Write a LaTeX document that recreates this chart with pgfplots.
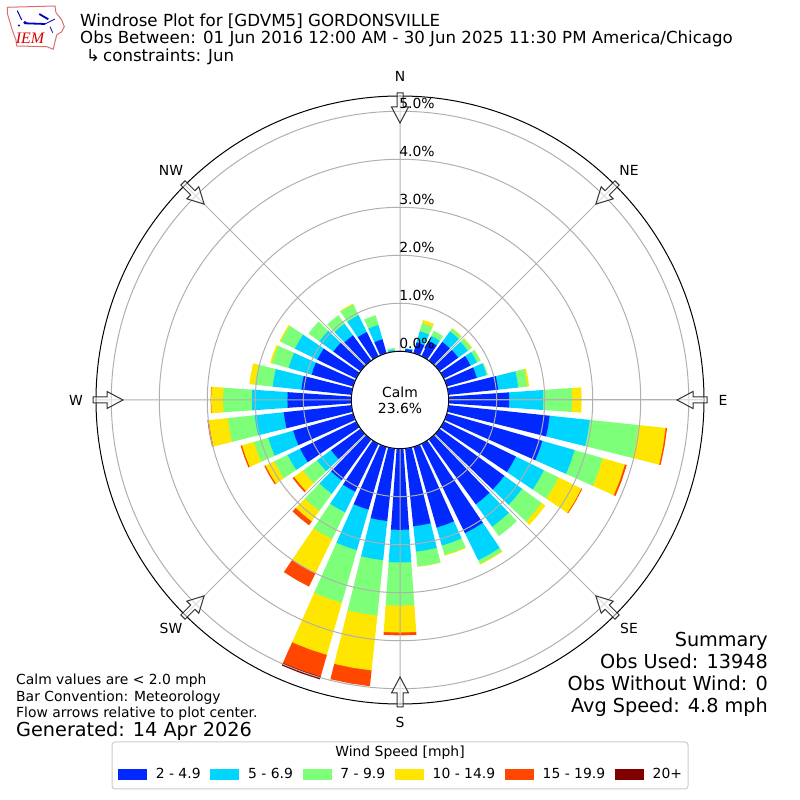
\documentclass[border=0pt]{standalone}
\usepackage{fontspec}
\setmainfont{DejaVu Sans}
\newfontfamily\iemfont{Liberation Serif}
\usepackage{pgfplots}
\pgfplotsset{compat=1.18}
\usepgfplotslibrary{polar}
\definecolor{cA}{RGB}{0,40,255}
\definecolor{cB}{RGB}{0,213,255}
\definecolor{cC}{RGB}{125,255,122}
\definecolor{cD}{RGB}{255,230,0}
\definecolor{cE}{RGB}{255,71,0}
\definecolor{cF}{RGB}{128,0,0}
\definecolor{gridc}{RGB}{176,176,176}
\definecolor{iowa}{RGB}{222,110,110}
% #1 direction, #2 lower edge, #3 upper edge, #4 colour
\newcommand\rosewedge[4]{%
  \ifdim #3pt>#2pt
  \pgfmathsetmacro\ta{90-#1-4}%
  \pgfmathsetmacro\tb{90-#1}%
  \pgfmathsetmacro\tc{90-#1+4}%
  \pgfmathsetmacro\rl{max(#2+1.015-0.012,1.015)}%
  \pgfmathsetmacro\rr{#3+1.015}%
  \edef\tmp{\noexpand\addplot[draw=none,fill=#4,forget plot] coordinates {(\ta,\rl)(\ta,\rr)(\tb,\rr)(\tc,\rr)(\tc,\rl)(\tb,\rl)} --cycle;}%
  \tmp
  \fi}
% direction, then the upper edge (percent) of each speed class, stacked
\newcommand\rosebar[7]{%
  \rosewedge{#1}{#6}{#7}{cF}\rosewedge{#1}{#5}{#6}{cE}\rosewedge{#1}{#4}{#5}{cD}%
  \rosewedge{#1}{#3}{#4}{cC}\rosewedge{#1}{#2}{#3}{cB}\rosewedge{#1}{0}{#2}{cA}}
\newcommand\T[5]{\node[anchor=#3,inner sep=0pt,font=\fontsize{#4pt}{#4pt}\selectfont] at (#1,800-#2) {#5};}
\begin{document}
\begin{tikzpicture}[x=1pt,y=1pt]
\useasboundingbox (0,0) rectangle (800,800);
% legend frame
\draw[rounded corners=3pt,draw=black!20,line width=1pt,fill=white] (112,800-742) rectangle (688,800-789);
\T{400}{753}{center}{13.9}{Wind Speed [mph]}
\begin{polaraxis}[
  at={(400pt,400pt)},anchor=center,
  scale only axis,width=608pt,height=608pt,
  xmin=0,xmax=360,ymin=0,ymax=6.333,
  xtick={0,45,...,315},
  ytick={1.015,2.015,3.015,4.015,5.015,6.015},
  xticklabels={},yticklabels={},
  major tick length=0pt,
  grid=both,
  major grid style={draw=gridc,line width=1pt},
  x axis line style={draw=black,line width=1pt},
  y axis line style={draw=gridc,line width=1pt},
  axis on top,
  clip=false,
  legend columns=6,
  legend cell align=left,
  legend style={at={(0.5016,-0.1155)},anchor=center,draw=none,fill=none,
    font=\fontsize{13.9pt}{14pt}\selectfont,
    /tikz/every odd column/.append style={column sep=7.5pt},
    /tikz/every even column/.append style={column sep=7.6pt},
    nodes={inner sep=2pt}},
]
\rosebar{0}{0.01}{0.01}{0.01}{0.01}{0.01}{0.01}
\rosebar{10}{0.05}{0.07}{0.07}{0.07}{0.07}{0.07}
\rosebar{20}{0.235}{0.475}{0.65}{0.72}{0.72}{0.72}
\rosebar{30}{0.355}{0.47}{0.59}{0.59}{0.59}{0.59}
\rosebar{40}{0.48}{0.75}{0.82}{0.835}{0.835}{0.835}
\rosebar{50}{0.485}{0.73}{0.82}{0.84}{0.84}{0.84}
\rosebar{60}{0.62}{0.77}{0.85}{0.855}{0.855}{0.855}
\rosebar{70}{0.65}{0.86}{0.89}{0.89}{0.89}{0.89}
\rosebar{80}{1.04}{1.46}{1.65}{1.69}{1.69}{1.69}
\rosebar{90}{1.26}{1.97}{2.57}{2.77}{2.77}{2.77}
\rosebar{100}{2.12}{2.96}{3.98}{4.55}{4.58}{4.58}
\rosebar{110}{2.07}{2.77}{3.38}{3.86}{3.90}{3.90}
\rosebar{120}{1.67}{2.32}{2.66}{3.19}{3.21}{3.21}
\rosebar{130}{1.67}{2.13}{2.63}{2.73}{2.73}{2.73}
\rosebar{140}{1.67}{2.25}{2.49}{2.49}{2.49}{2.49}
\rosebar{150}{2.07}{2.70}{2.78}{2.80}{2.80}{2.80}
\rosebar{160}{1.75}{2.14}{2.34}{2.36}{2.36}{2.36}
\rosebar{170}{1.63}{2.16}{2.47}{2.48}{2.48}{2.48}
\rosebar{180}{1.69}{2.37}{3.27}{3.83}{3.89}{3.89}
\rosebar{190}{1.52}{2.34}{3.50}{4.65}{4.98}{4.98}
\rosebar{200}{1.36}{2.24}{3.38}{4.51}{4.98}{5.04}
\rosebar{210}{1.11}{1.59}{2.21}{3.00}{3.31}{3.31}
\rosebar{220}{1.05}{1.40}{1.84}{2.11}{2.21}{2.21}
\rosebar{230}{0.76}{1.12}{1.48}{1.71}{1.75}{1.75}
\rosebar{240}{1.30}{1.59}{1.90}{2.10}{2.13}{2.13}
\rosebar{250}{1.30}{1.84}{2.15}{2.41}{2.44}{2.44}
\rosebar{260}{1.42}{2.03}{2.59}{2.99}{3.02}{3.02}
\rosebar{270}{1.33}{2.07}{2.67}{2.92}{2.93}{2.93}
\rosebar{280}{1.05}{1.65}{2.02}{2.14}{2.14}{2.14}
\rosebar{290}{0.90}{1.40}{1.76}{1.80}{1.80}{1.80}
\rosebar{300}{0.90}{1.42}{1.75}{1.78}{1.78}{1.78}
\rosebar{310}{0.70}{1.06}{1.34}{1.34}{1.34}{1.34}
\rosebar{320}{0.65}{0.95}{1.17}{1.17}{1.17}{1.17}
\rosebar{330}{0.56}{0.95}{1.20}{1.22}{1.22}{1.22}
\rosebar{340}{0.30}{0.61}{0.82}{0.82}{0.82}{0.82}
\rosebar{350}{0.01}{0.04}{0.075}{0.075}{0.075}{0.075}
\addlegendimage{legend image code/.code={\fill[cA] (0pt,-5pt) rectangle (28pt,5pt);}}\addlegendentry{2 - 4.9}
\addlegendimage{legend image code/.code={\fill[cB] (0pt,-5pt) rectangle (28pt,5pt);}}\addlegendentry{5 - 6.9}
\addlegendimage{legend image code/.code={\fill[cC] (0pt,-5pt) rectangle (28pt,5pt);}}\addlegendentry{7 - 9.9}
\addlegendimage{legend image code/.code={\fill[cD] (0pt,-5pt) rectangle (28pt,5pt);}}\addlegendentry{10 - 14.9}
\addlegendimage{legend image code/.code={\fill[cE] (0pt,-5pt) rectangle (28pt,5pt);}}\addlegendentry{15 - 19.9}
\addlegendimage{legend image code/.code={\fill[cF] (0pt,-5pt) rectangle (28pt,5pt);}}\addlegendentry{20+}
\end{polaraxis}
% centre disk
\fill[white] (400,400) circle (48.7);
\draw[black,line width=1pt] (400,400) circle (48.7);
\node[align=center,inner sep=0pt,font=\fontsize{13.9pt}{16pt}\selectfont] at (400,400) {Calm\\23.6\%};
% flow arrows
\foreach \a in {0,45,...,315}{
  \begin{scope}[shift={(400,400)},rotate=\a]
    \draw[black!80,line width=1pt,fill=white,fill opacity=0.55]
      (277,0)--(293,8.5)--(293,3)--(307,3)--(307,-3)--(293,-3)--(293,-8.5)--cycle;
  \end{scope}}
% radial labels
\foreach \yy/\ll in {343.5/0.0,295.5/1.0,247.5/2.0,199.5/3.0,151.5/4.0,103.5/5.0}{\T{417}{\yy}{center}{13.9}{\ll\%}}
% direction labels
\foreach \xx/\yy/\ll in {400/76/N,629/170/NE,723/400/E,629/628/SE,400/722/S,171/628/SW,76/400/W,171/170/NW}{\T{\xx}{\yy}{center}{13.9}{\ll}}
% titles
\T{80}{27}{base west}{16.67}{Windrose Plot for [GDVM5] GORDONSVILLE}
\T{80}{44}{base west}{16.62}{Obs Between: 01 Jun 2016 12:00 AM - 30 Jun 2025 11:30 PM America/Chicago}
\T{86}{62}{base west}{16.67}{↳}
\T{103}{62}{base west}{16.62}{constraints: Jun}
% left notes
\T{16}{685}{base west}{13.9}{Calm values are < 2.0 mph}
\T{16}{702}{base west}{13.9}{Bar Convention: Meteorology}
\T{16}{717.5}{base west}{13.9}{Flow arrows relative to plot center.}
\T{16}{736.5}{base west}{19.25}{Generated: 14 Apr 2026}
% summary
\T{768}{647}{base east}{19.25}{Summary}
\T{768}{669}{base east}{19.25}{Obs Used: 13948}
\T{768}{691}{base east}{19.25}{Obs Without Wind: 0}
\T{768}{713}{base east}{19.25}{Avg Speed: 4.8 mph}
% logo
\draw[iowa,line width=1pt,line join=round]
  (7.3,792.7)--(55,794)--(56,787.3)--(59.3,783.3)--(61.7,780)--(64.3,773.3)--(61.7,768.3)--(56.7,765)--(55,758.3)--(53.3,750.7)--(46.7,753.3)--(16.7,754)--(16,760)--(14,765)--(11.7,771.7)--(9.3,780)--(7.3,786.7)--cycle;
\begin{scope}[color=blue!75!black]
  \draw[line width=1.8pt] (25,776.7)--(45,776);
  \draw[line width=0.8pt] (45,776)--(55,781);
  \fill (25,777.3) circle (1.7);
  \fill (19,774.5) circle (1.2);
  \draw[line width=1pt] (17.3,789.3)--(21.7,780);
  \draw[line width=1.8pt] (39.3,786)--(48.3,780.7);
  \draw[line width=0.8pt] (50,773.3)--(52.7,767.3);
\end{scope}
\node[anchor=center,inner sep=0pt,text=red!85!black,font=\iemfont\itshape\fontsize{16pt}{16pt}\selectfont] at (30,761.5) {IEM};
\end{tikzpicture}
\end{document}
